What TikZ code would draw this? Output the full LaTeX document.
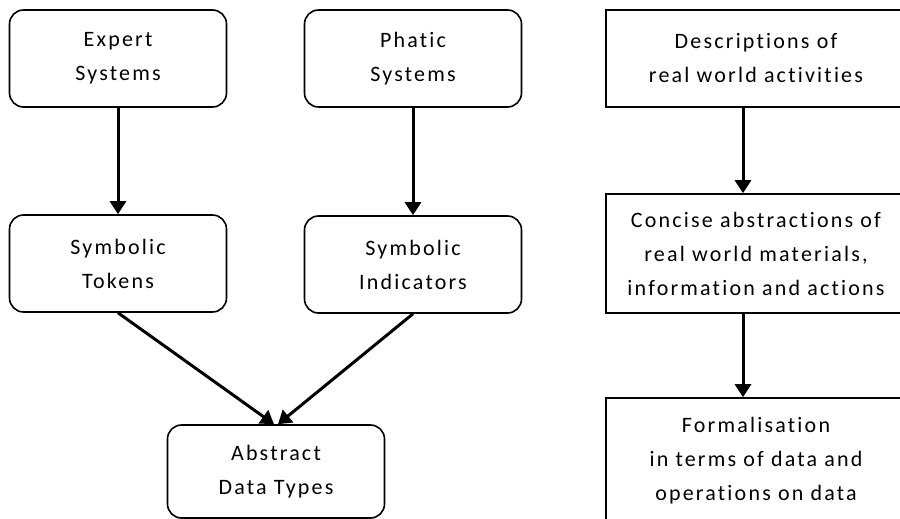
\documentclass[tikz,border=0pt]{standalone}
\usepackage{fontspec}
\setmainfont{Carlito}[LetterSpace=10,Ligatures={NoCommon}]
\usetikzlibrary{arrows.meta}

\begin{document}
\begin{tikzpicture}[x=0.5pt,y=-0.5pt,
    roundbox/.style={draw,line width=0.8pt,rounded corners=7pt,align=center,
        minimum width=108.5pt,minimum height=48.5pt,inner sep=0pt,
        font=\fontsize{11}{17}\selectfont},
    squarebox/.style={draw,line width=0.8pt,align=center,minimum width=160pt,
        inner sep=0pt,font=\fontsize{11}{17}\selectfont},
    arr/.style={line width=1.5pt,-{Triangle[length=6.5pt,width=8pt]}}]
            \useasboundingbox (0,0) rectangle (900,519);
            % left part
            \node[roundbox] (expert) at (118,58.5) {Expert\\Systems};
            \node[roundbox] (phatic) at (413,58.5) {Phatic\\Systems};
            \node[roundbox] (tokens) at (118,263.5) {Symbolic\\Tokens};
            \node[roundbox] (indic) at (413,264.5) {Symbolic\\Indicators};
            \node[roundbox,minimum height=46.5pt] (adt) at (276,471.5) {Abstract\\Data Types};
            % right part
            \coordinate (spine) at (743,0);
            \node[squarebox,minimum height=48.5pt] (desc) at (766,58.5) {};
            \node at (756,58.5) [align=center,font=\fontsize{11}{17}\selectfont] (desctext) {Descriptions of\\real world activities};
            \node[squarebox,minimum height=59.5pt] (concise) at (766,253.5) {};
            \node at (756,253.5) [align=center,font=\fontsize{11}{17}\selectfont] (concisetext) {Concise abstractions of\\real world materials,\\information and actions};
            \node[squarebox,minimum height=63pt] (formal) at (766,461) {};
            \node at (756,461) [align=center,font=\fontsize{11}{17}\selectfont] (formaltext) {Formalisation\\in terms of data and\\operations on data};

            \draw[arr] (expert) -- (tokens);
            \draw[arr] (phatic) -- (indic);
            \draw[arr] (tokens.south) -- ([xshift=-1pt]adt.north);
            \draw[arr] (indic.south) -- ([xshift=1pt]adt.north);
            \draw[arr] (desc.south -| spine) -- (concise.north -| spine);
            \draw[arr] (concise.south -| spine) -- (formal.north -| spine);
        \end{tikzpicture}
\end{document}
